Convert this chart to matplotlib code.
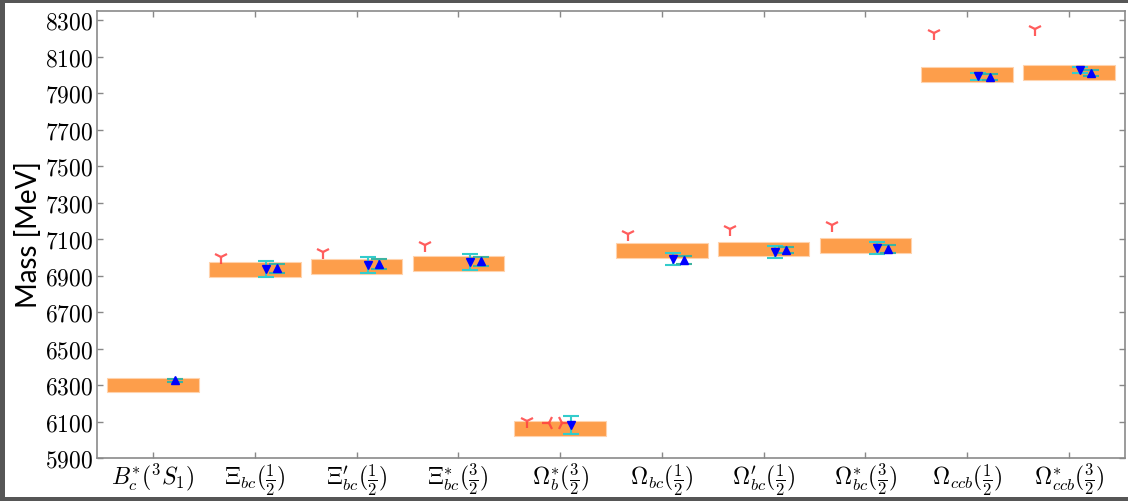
import numpy as np
import matplotlib
matplotlib.use('Agg')
import matplotlib.pyplot as plt
from matplotlib.patches import Rectangle

plt.rcParams['mathtext.fontset'] = 'cm'

# Categories (x tick labels)
labels = [r'$B_c^{*}(^3S_1)$', r'$\Xi_{bc}(\frac{1}{2})$', r'$\Xi^{\prime}_{bc}(\frac{1}{2})$',
          r'$\Xi^{*}_{bc}(\frac{3}{2})$', r'$\Omega_b^{*}(\frac{3}{2})$', r'$\Omega_{bc}(\frac{1}{2})$',
          r'$\Omega^{\prime}_{bc}(\frac{1}{2})$', r'$\Omega^{*}_{bc}(\frac{3}{2})$',
          r'$\Omega_{ccb}(\frac{1}{2})$', r'$\Omega^{*}_{ccb}(\frac{3}{2})$']

# orange bands (low, high) in MeV
band_low = [6262, 6892, 6908, 6925, 6021, 6996, 7005, 7023, 7960, 7971]
band_high = [6338, 6974, 6990, 7007, 6103, 7078, 7086, 7105, 8042, 8053]

# red "Y" points
red_y = [np.nan, 7001, 7029, 7067, 6103, 7127, 7155, 7177, 8229, 8251]
# extra red points on Omega_b*
red_left = [np.nan, np.nan, np.nan, np.nan, 6092, np.nan, np.nan, np.nan, np.nan, np.nan]
red_right = [np.nan, np.nan, np.nan, np.nan, 6092, np.nan, np.nan, np.nan, np.nan, np.nan]

# blue down triangles + errors
down_val = [np.nan, 6936, 6958, 6974, 6081, 6990, 7029, 7051, 7993, 8026]
down_err = [np.nan, 44, 46, 44, 49, 33, 33, 33, 19, 16]
# blue up triangles + errors
up_val = [6325, 6941, 6963, 6979, np.nan, 6985, 7040, 7045, 7988, 8010]
up_err = [8, 25, 25, 25, np.nan, 20, 19, 22, 15, 16]

x = np.arange(len(labels))

fig = plt.figure(figsize=(11.28, 5.01), dpi=100)
fig.patch.set_facecolor('#565656')
fig.patches.append(Rectangle((5/1128, 4/501), 1 - 5/1128, 1 - 7/501,
                             transform=fig.transFigure, facecolor='white',
                             edgecolor='none', zorder=-10))

ax = fig.add_axes([97/1128, 1 - 458/501, (1125 - 97)/1128, (458 - 11)/501])

ax.bar(x, np.array(band_high) - np.array(band_low), bottom=band_low, width=0.9,
       color='#fd9e4b', edgecolor='#ffd3ad', linewidth=0.8, zorder=1)

ax.plot(x - 0.33, red_y, ls='none', marker='1', ms=10, mew=1.6,
        color='#ff4040', alpha=0.85, zorder=3)
ax.plot(x - 0.11, red_left, ls='none', marker='3', ms=10, mew=1.6,
        color='#ff4040', alpha=0.85, zorder=3)
ax.plot(x + 0.02, red_right, ls='none', marker='4', ms=10, mew=1.6,
        color='#ff4040', alpha=0.85, zorder=3)

ax.errorbar(x + 0.11, down_val, yerr=down_err, fmt='v', color='blue',
            ms=5.5, ecolor='#33cccc', elinewidth=1.5, capsize=6, capthick=1.5,
            zorder=4)
ax.errorbar(x + 0.22, up_val, yerr=up_err, fmt='^', color='blue',
            ms=5.5, ecolor='#3db3a0', elinewidth=1.5, capsize=6, capthick=1.5,
            zorder=4)

ax.set_xlim(-0.55, 9.55)
ax.set_ylim(5900, 8350)
ax.set_xticks(x)
ax.set_xticklabels(labels, fontsize=17)
yt = np.arange(5900, 8301, 200)
ax.set_yticks(yt)
ax.set_yticklabels([r'$%d$' % v for v in yt], fontsize=17)
ax.tick_params(direction='in', length=4, width=1, color='#888888',
               top=True, right=True, pad=3)
for s in ax.spines.values():
    s.set_color('#8a8a8a')
    s.set_linewidth(1.2)

ax.set_ylabel('Mass [MeV]', fontsize=20, family=['Lato', 'DejaVu Sans'], labelpad=2)

fig.savefig('out.png', dpi=100, facecolor=fig.get_facecolor())
